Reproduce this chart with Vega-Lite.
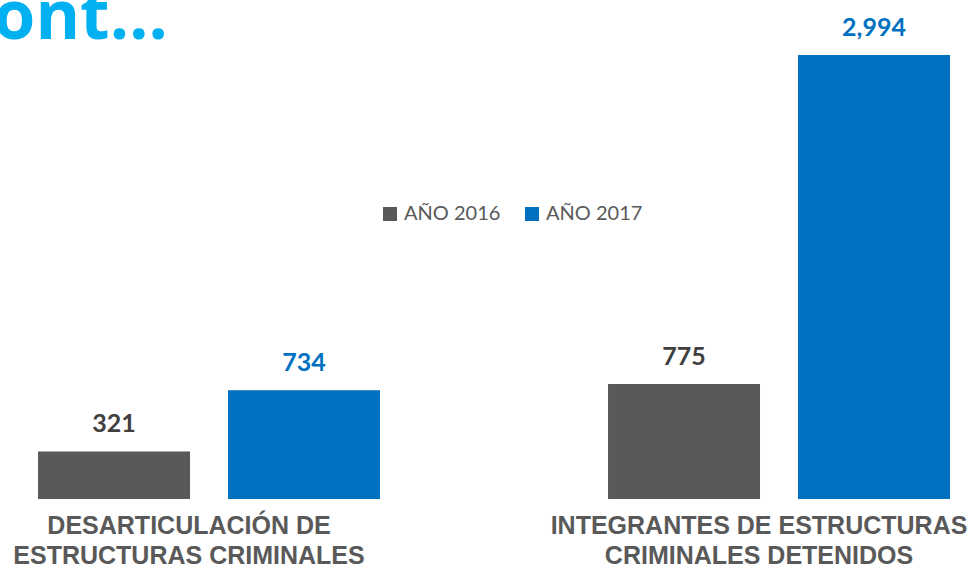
{
  "$schema": "https://vega.github.io/schema/vega-lite/v6.json",
  "autosize": {"type": "none"},
  "width": 978,
  "height": 499,
  "padding": {"top": 0, "left": 0, "right": 0, "bottom": 71},
  "background": "white",
  "title": {
    "text": "Cont…",
    "anchor": "start",
    "frame": "bounds",
    "orient": "top",
    "offset": -53,
    "baseline": "top",
    "dx": -50,
    "font": "Open Sans",
    "fontSize": 68,
    "fontWeight": "bold",
    "color": "#00B0F0"
  },
  "config": {"view": {"stroke": null}},
  "data": {
    "values": [
      {"grupo": "DESARTICULACIÓN DE|ESTRUCTURAS CRIMINALES", "anio": "AÑO 2016", "valor": 321},
      {"grupo": "DESARTICULACIÓN DE|ESTRUCTURAS CRIMINALES", "anio": "AÑO 2017", "valor": 734},
      {"grupo": "INTEGRANTES DE ESTRUCTURAS|CRIMINALES DETENIDOS", "anio": "AÑO 2016", "valor": 775},
      {"grupo": "INTEGRANTES DE ESTRUCTURAS|CRIMINALES DETENIDOS", "anio": "AÑO 2017", "valor": 2994}
    ]
  },
  "encoding": {
    "x": {
      "field": "grupo",
      "type": "nominal",
      "sort": null,
      "scale": {"paddingInner": 0.4, "paddingOuter": 0.0579, "align": 0.576},
      "axis": {
        "title": null,
        "labelAngle": 0,
        "domain": false,
        "ticks": false,
        "labelExpr": "split(datum.label, '|')",
        "labelFont": "Liberation Sans",
        "labelFontWeight": "bold",
        "labelFontSize": 25,
        "labelColor": "#595959",
        "labelLineHeight": 30,
        "labelPadding": 14,
        "labelOffset": -20,
        "labelLimit": 0,
        "labelOverlap": false,
        "labelBound": false
      }
    },
    "xOffset": {
      "field": "anio",
      "type": "nominal",
      "sort": ["AÑO 2016", "AÑO 2017"],
      "scale": {"paddingInner": 0.2, "paddingOuter": 0}
    },
    "y": {
      "field": "valor",
      "type": "quantitative",
      "scale": {"domain": [0, 3365], "nice": false, "zero": true},
      "axis": null
    }
  },
  "layer": [
    {
      "mark": {"type": "bar"},
      "encoding": {
        "color": {
          "field": "anio",
          "type": "nominal",
          "scale": {"domain": ["AÑO 2016", "AÑO 2017"], "range": ["#595959", "#0070C0"]},
          "legend": {
            "title": null,
            "orient": "none",
            "legendX": 380,
            "legendY": 204,
            "direction": "horizontal",
            "symbolType": "square",
            "symbolSize": 196,
            "symbolStrokeWidth": 0,
            "symbolOpacity": 1,
            "labelFont": "Lato",
            "labelFontSize": 20,
            "labelColor": "#595959",
            "labelOffset": 4,
            "columnPadding": 21,
            "labelLimit": 0
          }
        }
      }
    },
    {
      "mark": {"type": "text", "baseline": "alphabetic", "dy": -19, "font": "Lato", "fontSize": 25, "fontWeight": "bold"},
      "encoding": {
        "text": {"field": "valor", "type": "quantitative", "format": ",d"},
        "color": {
          "field": "anio",
          "type": "nominal",
          "scale": {"domain": ["AÑO 2016", "AÑO 2017"], "range": ["#404040", "#0070C0"]},
          "legend": null
        }
      }
    }
  ],
  "resolve": {"scale": {"color": "independent"}}
}
